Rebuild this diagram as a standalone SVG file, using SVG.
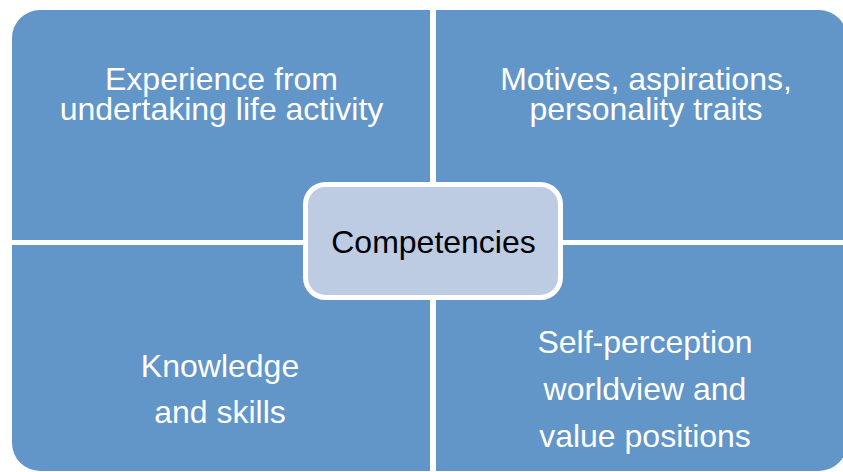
<svg xmlns="http://www.w3.org/2000/svg" width="843" height="472" viewBox="0 0 843 472">
  <style>
    .quad { fill: #6295C8; }
    .qtext { font-family: "Liberation Sans", Arial, sans-serif; font-size: 32px; fill: #FFFFFF; text-anchor: middle; }
    .core { fill: #BDCCE3; stroke: #FFFFFF; stroke-width: 5; }
    .ctext { font-family: "Liberation Sans", Arial, sans-serif; font-size: 32px; fill: #000000; text-anchor: middle; }
  </style>
  <rect width="843" height="472" fill="#FFFFFF"/>

  <g id="experience">
    <path class="quad" d="M12,240 V38 A28,28 0 0 1 40,10 H430 V240 Z"/>
    <text class="qtext" x="221.5" y="90">Experience from</text>
    <text class="qtext" x="221.5" y="120">undertaking life activity</text>
  </g>

  <g id="motives">
    <path class="quad" d="M436,10 H819 A28,28 0 0 1 847,38 V240 H436 Z"/>
    <text class="qtext" x="646" y="90">Motives, aspirations,</text>
    <text class="qtext" x="646" y="120">personality traits</text>
  </g>

  <g id="knowledge">
    <path class="quad" d="M12,245 H430 V471 H40 A28,28 0 0 1 12,443 Z"/>
    <text class="qtext" x="220" y="377">Knowledge</text>
    <text class="qtext" x="220" y="423">and skills</text>
  </g>

  <g id="self-perception">
    <path class="quad" d="M436,245 H847 V443 A28,28 0 0 1 819,471 H436 Z"/>
    <text class="qtext" x="645" y="353">Self-perception</text>
    <text class="qtext" x="645" y="400">worldview and</text>
    <text class="qtext" x="645" y="447">value positions</text>
  </g>

  <g id="connectors"/>

  <g id="competencies">
    <rect class="core" x="305.5" y="184.5" width="255" height="113" rx="20" ry="20"/>
    <text class="ctext" x="433.5" y="253">Competencies</text>
  </g>
</svg>
